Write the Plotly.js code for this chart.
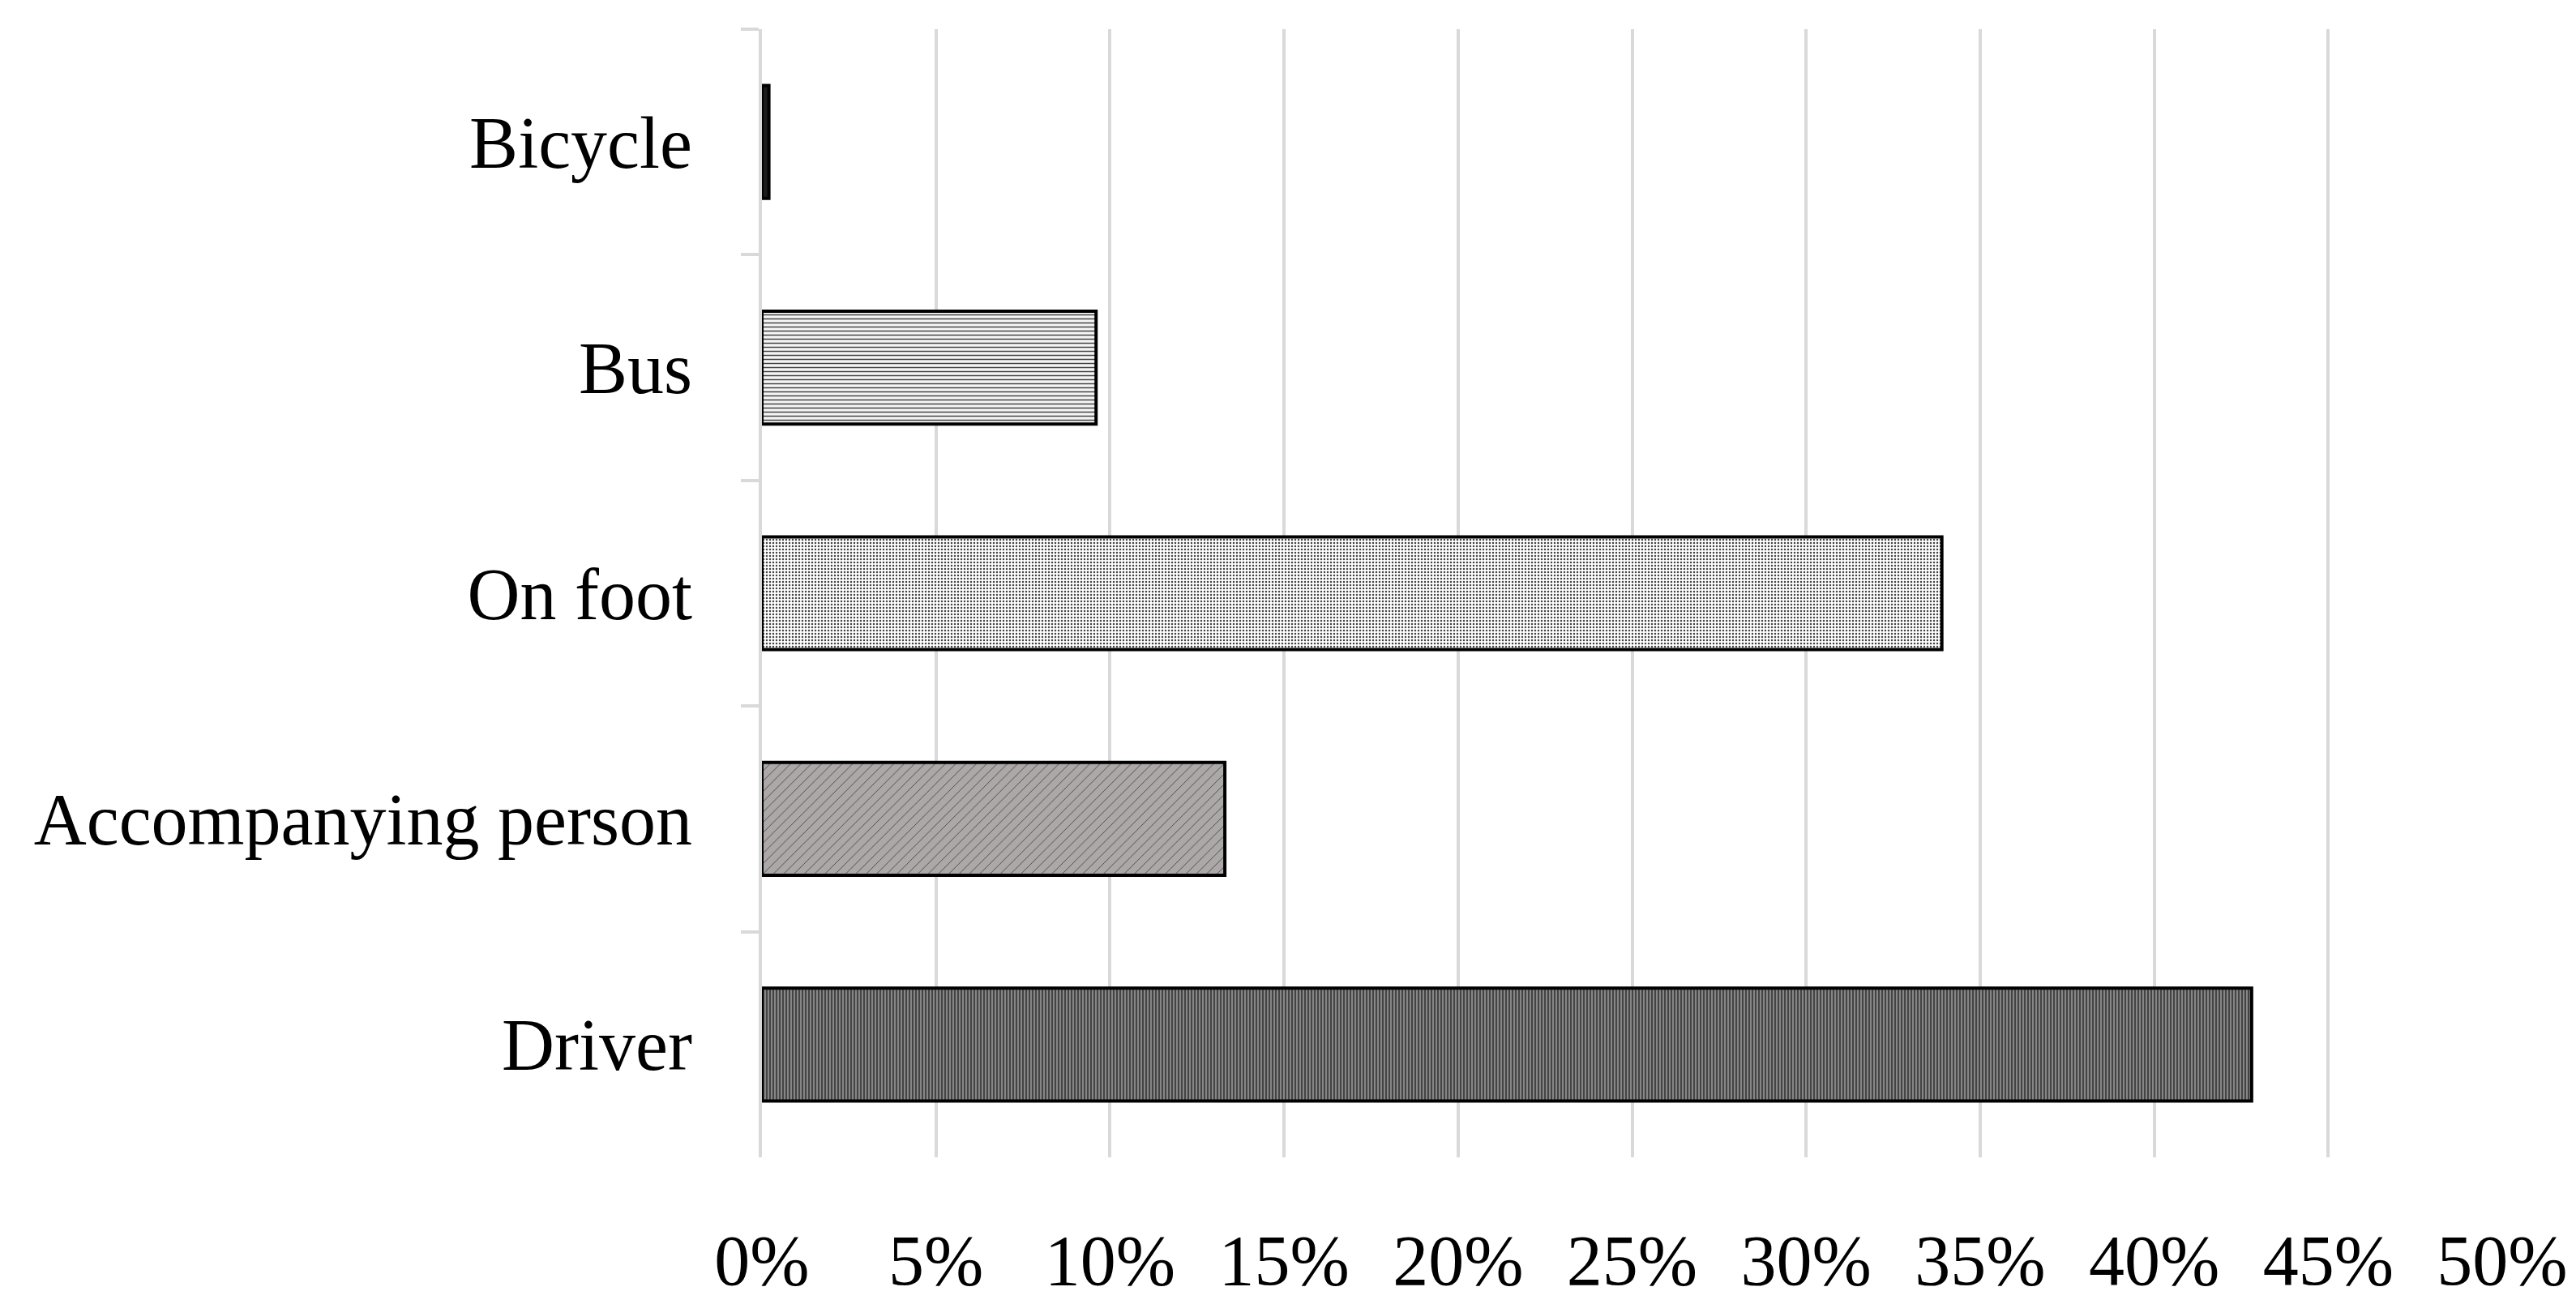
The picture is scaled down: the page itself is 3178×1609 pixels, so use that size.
<!DOCTYPE html>
<html>
<head>
<meta charset="utf-8">
<script src="https://cdn.plot.ly/plotly-3.0.1.min.js"></script>
<style>html,body{margin:0;padding:0;background:#fff;}</style>
</head>
<body>
<div id="chart" style="width:3178px;height:1609px;"></div>
<script>
// Categories top-to-bottom
const categories = ["Bicycle", "Bus", "On foot", "Accompanying person", "Driver"];
// Share of respondents (%)
const shares = [0.2, 9.6, 33.9, 13.3, 42.8];
const xTickValues = [0, 5, 10, 15, 20, 25, 30, 35, 40, 45, 50];

const patternShapes = ["", "-", ".", "/", "|"];
const patternFg = ["#000000", "#d4d4d4", "#c2c2c2", "#7c7878", "#585858"];
const barColors = ["#1a1a1a", "#f4f4f4", "#ffffff", "#aca8a8", "#868686"];
const patternSize = [4, 5, 4, 9, 4];
const patternSolidity = [0.3, 0.3, 0.3, 0.1, 0.5];

const trace = {
  type: "bar",
  orientation: "h",
  y: categories,
  x: shares,
  width: 0.5,
  marker: {
    color: barColors,
    line: {color: "#000000", width: 4},
    pattern: {
      shape: patternShapes,
      fgcolor: patternFg,
      fgopacity: 1,
      size: patternSize,
      solidity: patternSolidity,
      fillmode: "overlay"
    }
  },
  hoverinfo: "x+y"
};

const layout = {
  width: 3178,
  height: 1609,
  margin: {l: 940, r: 91, t: 36, b: 181},
  paper_bgcolor: "#ffffff",
  plot_bgcolor: "#ffffff",
  showlegend: false,
  font: {family: "Liberation Serif, 'Times New Roman', serif", color: "#000000", size: 90},
  xaxis: {
    range: [0, 50],
    tickvals: xTickValues,
    ticktext: xTickValues.map(v => v + "%"),
    showgrid: true,
    gridcolor: "#d9d9d9",
    gridwidth: 4,
    zeroline: false,
    showline: false,
    ticks: "",
    ticklabelstandoff: 68,
    tickfont: {family: "Liberation Serif, serif", size: 88, color: "#000000"}
  },
  yaxis: {
    type: "category",
    autorange: "reversed",
    showgrid: false,
    zeroline: false,
    showline: true,
    linecolor: "#d9d9d9",
    linewidth: 4,
    ticks: "outside",
    tickson: "boundaries",
    ticklen: 22,
    tickwidth: 4,
    tickcolor: "#d9d9d9",
    ticklabelstandoff: 64,
    tickfont: {family: "Liberation Serif, serif", size: 90, color: "#000000"}
  },
  bargap: 0.5
};

Plotly.newPlot("chart", [trace], layout, {displayModeBar: false, staticPlot: true});
</script>
</body>
</html>
